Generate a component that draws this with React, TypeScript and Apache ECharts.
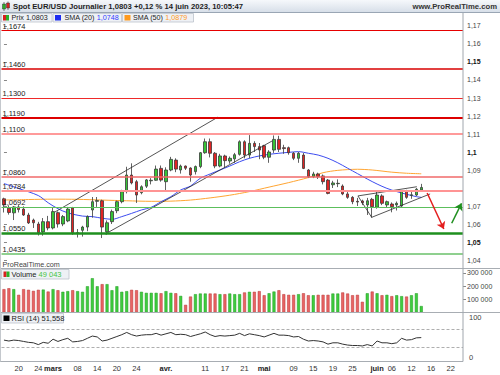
import React, { useEffect, useRef } from "react";
import * as echarts from "echarts";

const FONT = "'Liberation Sans', Arial, sans-serif";

// ---- categories (trading days, incl. empty future slots) ----
const DATES: string[] = [
  "2023-02-15","2023-02-16","2023-02-17","2023-02-20","2023-02-21","2023-02-22","2023-02-23","2023-02-24","2023-02-27","2023-02-28",
  "2023-03-01","2023-03-02","2023-03-03","2023-03-06","2023-03-07","2023-03-08","2023-03-09","2023-03-10","2023-03-13","2023-03-14",
  "2023-03-15","2023-03-16","2023-03-17","2023-03-20","2023-03-21","2023-03-22","2023-03-23","2023-03-24","2023-03-27","2023-03-28",
  "2023-03-29","2023-03-30","2023-03-31","2023-04-03","2023-04-04","2023-04-05","2023-04-06","2023-04-07","2023-04-10","2023-04-11",
  "2023-04-12","2023-04-13","2023-04-14","2023-04-17","2023-04-18","2023-04-19","2023-04-20","2023-04-21","2023-04-24","2023-04-25",
  "2023-04-26","2023-04-27","2023-04-28","2023-05-01","2023-05-02","2023-05-03","2023-05-04","2023-05-05","2023-05-08","2023-05-09",
  "2023-05-10","2023-05-11","2023-05-12","2023-05-15","2023-05-16","2023-05-17","2023-05-18","2023-05-19","2023-05-22","2023-05-23",
  "2023-05-24","2023-05-25","2023-05-26","2023-05-29","2023-05-30","2023-05-31","2023-06-01","2023-06-02","2023-06-05","2023-06-06",
  "2023-06-07","2023-06-08","2023-06-09","2023-06-12","2023-06-13","2023-06-14",
  "2023-06-15","2023-06-16","2023-06-19","2023-06-20","2023-06-21","2023-06-22","2023-06-23","2023-06-26",
];

// tick labels: [category index, text]
const X_TICKS: [number, string][] = [
  [3, "20"], [7, "24"], [10, "mars"], [15, "08"], [19, "14"], [23, "20"], [27, "24"],
  [33, "avr."], [41, "11"], [45, "17"], [49, "21"], [53, "mai"], [59, "09"], [63, "15"],
  [67, "19"], [71, "25"], [76, "juin"], [79, "06"], [83, "12"], [87, "16"], [91, "22"],
];
const MONTHS = ["mars", "avr.", "mai", "juin"];

// ---- daily candles: [open, high, low, close] ----
const OHLC: [number, number, number, number][] = [
  [1.0740, 1.0746, 1.0664, 1.0706], [1.0688, 1.0703, 1.0652, 1.0664], [1.0662, 1.0700, 1.0622, 1.0695], [1.0695, 1.0705, 1.0664, 1.0680],
  [1.0683, 1.0698, 1.0645, 1.0650], [1.0650, 1.0662, 1.0600, 1.0606], [1.0622, 1.0630, 1.0578, 1.0607], [1.0600, 1.0612, 1.0536, 1.0552],
  [1.0556, 1.0633, 1.0535, 1.0613], [1.0613, 1.0645, 1.0565, 1.0578], [1.0578, 1.0691, 1.0570, 1.0669], [1.0663, 1.0670, 1.0580, 1.0600],
  [1.0600, 1.0650, 1.0588, 1.0641], [1.0617, 1.0695, 1.0610, 1.0683], [1.0689, 1.0695, 1.0540, 1.0552], [1.0548, 1.0572, 1.0525, 1.0552],
  [1.0565, 1.0590, 1.0530, 1.0583], [1.0583, 1.0648, 1.0560, 1.0641], [1.0678, 1.0750, 1.0635, 1.0724], [1.0726, 1.0750, 1.0695, 1.0730],
  [1.0729, 1.0735, 1.0522, 1.0583], [1.0557, 1.0620, 1.0540, 1.0607], [1.0613, 1.0680, 1.0600, 1.0669], [1.0674, 1.0730, 1.0660, 1.0724],
  [1.0724, 1.0790, 1.0715, 1.0780], [1.0780, 1.0918, 1.0770, 1.0872], [1.0872, 1.0937, 1.0820, 1.0828], [1.0835, 1.0845, 1.0717, 1.0761],
  [1.0774, 1.0815, 1.0765, 1.0807], [1.0810, 1.0850, 1.0800, 1.0845], [1.0840, 1.0855, 1.0820, 1.0843], [1.0843, 1.0925, 1.0840, 1.0905],
  [1.0909, 1.0925, 1.0835, 1.0844], [1.0835, 1.0915, 1.0788, 1.0900], [1.0900, 1.0973, 1.0893, 1.0959], [1.0955, 1.0965, 1.0888, 1.0905],
  [1.0900, 1.0930, 1.0880, 1.0922], [1.0922, 1.0925, 1.0900, 1.0910], [1.0911, 1.0915, 1.0835, 1.0872], [1.0891, 1.0925, 1.0875, 1.0919],
  [1.0919, 1.1000, 1.0910, 1.0996], [1.0996, 1.1075, 1.0990, 1.1057], [1.1057, 1.1075, 1.0970, 1.0993], [1.0993, 1.1000, 1.0910, 1.0922],
  [1.0922, 1.0990, 1.0915, 1.0978], [1.0978, 1.0985, 1.0915, 1.0952], [1.0950, 1.0975, 1.0935, 1.0965], [1.0962, 1.0995, 1.0940, 1.0985],
  [1.0987, 1.1065, 1.0980, 1.1057], [1.1057, 1.1065, 1.0965, 1.0983], [1.0983, 1.1094, 1.0965, 1.1048], [1.1048, 1.1060, 1.1000, 1.1030],
  [1.1030, 1.1050, 1.0960, 1.1011], [1.1035, 1.1040, 1.0960, 1.0971], [1.0971, 1.1010, 1.0940, 1.1000], [1.1011, 1.1092, 1.0995, 1.1070],
  [1.1070, 1.1090, 1.1000, 1.1015], [1.1024, 1.1040, 1.0990, 1.1019], [1.1024, 1.1030, 1.0985, 1.0996], [1.0993, 1.1000, 1.0955, 1.0965],
  [1.0965, 1.1000, 1.0940, 1.0993], [1.0983, 1.0995, 1.0905, 1.0909], [1.0900, 1.0905, 1.0855, 1.0863], [1.0863, 1.0890, 1.0855, 1.0878],
  [1.0878, 1.0885, 1.0850, 1.0863], [1.0867, 1.0875, 1.0820, 1.0835], [1.0844, 1.0850, 1.0765, 1.0770], [1.0818, 1.0840, 1.0800, 1.0828],
  [1.0824, 1.0848, 1.0805, 1.0826], [1.0811, 1.0820, 1.0760, 1.0767], [1.0767, 1.0780, 1.0740, 1.0748], [1.0748, 1.0755, 1.0710, 1.0724],
  [1.0726, 1.0745, 1.0700, 1.0722], [1.0728, 1.0735, 1.0705, 1.0718], [1.0706, 1.0745, 1.0650, 1.0729], [1.0737, 1.0745, 1.0635, 1.0696],
  [1.0693, 1.0780, 1.0685, 1.0761], [1.0756, 1.0765, 1.0705, 1.0715], [1.0706, 1.0730, 1.0690, 1.0724], [1.0711, 1.0720, 1.0665, 1.0696],
  [1.0706, 1.0725, 1.0675, 1.0715], [1.0700, 1.0785, 1.0695, 1.0780], [1.0785, 1.0790, 1.0740, 1.0748], [1.0759, 1.0780, 1.0740, 1.0762],
  [1.0761, 1.0800, 1.0755, 1.0793], [1.0789, 1.0823, 1.0785, 1.0803],
];

const VOLUME: number[] = [
  177000, 184000, 177000, 134000, 177000, 172000, 164000, 172000, 174000, 159000,
  177000, 169000, 157000, 162000, 169000, 162000, 157000, 199000, 260000, 199000,
  215000, 215000, 169000, 199000, 157000, 162000, 172000, 169000, 157000, 149000,
  149000, 149000, 146000, 162000, 149000, 146000, 126000, 58000, 121000, 139000,
  144000, 144000, 144000, 144000, 139000, 139000, 144000, 139000, 139000, 152000,
  157000, 157000, 162000, 131000, 146000, 159000, 169000, 139000, 134000, 134000,
  139000, 146000, 131000, 131000, 134000, 134000, 134000, 144000, 144000, 152000,
  144000, 131000, 134000, 81000, 146000, 159000, 146000, 131000, 134000, 124000,
  131000, 124000, 121000, 131000, 146000, 49043,
];

const RSI: number[] = [
  46, 44, 46, 45, 43, 41, 40, 36, 41, 39,
  48, 43, 47, 50, 42, 43, 45, 50, 55, 53,
  44, 46, 50, 54, 58, 63, 58, 55, 57, 58,
  58, 61, 57, 60, 63, 58, 59, 58, 54, 57,
  60, 64, 58, 54, 56, 55, 56, 57, 61, 56,
  60, 58, 56, 53, 57, 61, 57, 57, 56, 53,
  54, 48, 44, 45, 44, 42, 37, 40, 40, 37,
  35, 34, 34, 33, 36, 33, 44, 40, 40, 38,
  40, 50, 46, 47, 51, 51.558,
];

// moving averages: [category index, value]
const SMA20: [number, number][] = [
  [0, 1.0825], [3, 1.0797], [7, 1.0758], [9, 1.0718], [11, 1.0685], [13, 1.0662], [16, 1.0644], [18, 1.0641],
  [20, 1.0632], [22, 1.0626], [24, 1.0641], [26, 1.0659], [28, 1.0678], [30, 1.0693], [32, 1.0724], [34, 1.0752],
  [36, 1.0789], [38, 1.0811], [40, 1.0854], [42, 1.0878], [44, 1.0900], [46, 1.0922], [48, 1.0946], [50, 1.0965],
  [52, 1.0978], [54, 1.0987], [56, 1.0993], [58, 1.0998], [60, 1.1002], [62, 1.0993], [64, 1.0983], [66, 1.0965],
  [68, 1.0940], [70, 1.0910], [72, 1.0880], [74, 1.0850], [76, 1.0822], [78, 1.0798], [80, 1.0780], [82, 1.0765],
  [84, 1.0752], [85, 1.0748],
];
const SMA50: [number, number][] = [
  [0, 1.0733], [5, 1.0736], [10, 1.0738], [15, 1.0737], [20, 1.0733], [25, 1.0729], [30, 1.0726], [34, 1.0727],
  [38, 1.0733], [42, 1.0745], [46, 1.0760], [50, 1.0780], [54, 1.0805], [58, 1.0830], [62, 1.0858], [65, 1.0885],
  [68, 1.0898], [72, 1.0904], [75, 1.0900], [79, 1.0888], [82, 1.0882], [85, 1.0879],
];

// horizontal levels drawn on the chart
const LEVELS: number[] = [1.1674, 1.1460, 1.1300, 1.1190, 1.1100, 1.0860, 1.0784, 1.0692, 1.0550, 1.0435];
const LEVEL_COLORS = ["#e60000", "#d80000", "#ee2a2a", "#dd0000", "#ff9a9a", "#f06a6a", "#ff9494", "#5cbf5c", "#1e8f1e", "#8fd08f"];
const LEVEL_WIDTHS = [1.2, 1.5, 1, 2, 2, 1.5, 2, 1, 2.5, 2];

// hand-drawn trend lines: pairs of [category index, price]
const TRENDLINES: [number, number][][] = [
  [[10.4, 1.0667], [43.6, 1.1194]],
  [[20.6, 1.0544], [54.6, 1.1061]],
  [[72.1, 1.0756], [84.1, 1.0807]],
  [[72.1, 1.0756], [74.9, 1.0637]],
  [[74.9, 1.0637], [86.8, 1.0767]],
];
const ARROW_DOWN: [number, number][] = [[86.2, 1.0772], [89.6, 1.0572]];
const ARROW_UP: [number, number][] = [[91.2, 1.0604], [93.2, 1.0715]];

const LAST_PRICE = 1.0803;
const LAST_SMA20 = 1.0748;
const LAST_SMA50 = 1.0879;
const LAST_VOLUME = 49043;
const LAST_RSI = 51.558;
const PRICE_TICKS = [1.04, 1.05, 1.06, 1.07, 1.09, 1.1, 1.11, 1.12, 1.13, 1.14, 1.15, 1.16, 1.17];
const VOLUME_TICKS = [100000, 200000, 300000];
const RSI_TICKS = [0, 100];
const RSI_BANDS = [70, 30];

const fr = (v: number, d: number) => v.toFixed(d).replace(".", ",");
const thousands = (v: number) => String(Math.round(v)).replace(/\B(?=(\d{3})+(?!\d))/g, " ");

export default function App() {
  const ref = useRef<HTMLDivElement>(null);

  useEffect(() => {
    document.body.style.margin = "0";
    if (!ref.current) return;
    const chart = echarts.init(ref.current, undefined, { renderer: "svg" });

    const GREEN = "#36c436";
    const RED = "#e02424";
    const up = OHLC.map(([o, , , c]) => c >= o);

    const tickMap = new Map<number, string>(X_TICKS);
    const priceLabel = (v: number) => {
      let s = v.toFixed(2);
      if (s.endsWith("0")) s = s.slice(0, -1);
      s = s.replace(".", ",");
      return Math.round(v * 100) % 5 === 0 ? `{b|${s}}` : s;
    };

    const gridL = 1.5;
    const gridR = 37;

    const option: any = {
      animation: false,
      textStyle: { fontFamily: FONT },
      grid: [
        { left: gridL, right: gridR, top: 13, height: 255 },
        { left: gridL, right: gridR, top: 269, height: 43.5 },
        { left: gridL, right: gridR, top: 315.8, height: 45 },
      ],
      xAxis: [
        { type: "category", gridIndex: 0, data: DATES, show: false },
        { type: "value", gridIndex: 0, min: -0.5, max: DATES.length - 0.5, show: false },
        { type: "category", gridIndex: 1, data: DATES, show: false },
        {
          type: "category",
          gridIndex: 2,
          data: DATES,
          axisLine: { show: false },
          axisTick: { show: false },
          axisLabel: {
            interval: (i: number) => tickMap.has(i),
            formatter: (_v: string, i: number) => {
              const t = tickMap.get(i) || "";
              return MONTHS.includes(t) ? `{m|${t}}` : t;
            },
            fontSize: 7.5,
            color: "#333",
            margin: 4,
            fontFamily: FONT,
            rich: { m: { fontWeight: "bold", fontSize: 7.5, color: "#222", fontFamily: FONT } },
          },
        },
      ],
      yAxis: [
        {
          type: "value",
          gridIndex: 0,
          position: "right",
          min: 1.035556,
          max: 1.177222,
          axisLine: { show: false },
          splitLine: { show: false },
          axisTick: { show: true, length: 3, lineStyle: { color: "#888" }, customValues: PRICE_TICKS },
          axisLabel: {
            customValues: PRICE_TICKS,
            formatter: priceLabel,
            fontSize: 7,
            color: "#444",
            margin: 4,
            fontFamily: FONT,
            rich: { b: { fontWeight: "bold", fontSize: 7, color: "#111", fontFamily: FONT } },
          },
        },
        {
          type: "value",
          gridIndex: 1,
          position: "right",
          min: 0,
          max: 330000,
          axisLine: { show: false },
          splitLine: { show: false },
          axisTick: { show: true, length: 3, lineStyle: { color: "#888" }, customValues: VOLUME_TICKS },
          axisLabel: { customValues: VOLUME_TICKS, formatter: thousands, fontSize: 7, color: "#444", margin: 4, fontFamily: FONT },
        },
        {
          type: "value",
          gridIndex: 2,
          position: "right",
          min: 0,
          max: 100,
          axisLine: { show: false },
          splitLine: { show: false },
          axisTick: { show: false },
          axisLabel: {
            customValues: RSI_TICKS,
            formatter: (v: number) => (v === 0 ? `{lo|0}` : `{hi|${v}}`),
            fontSize: 7.5,
            color: "#444",
            margin: 6,
            fontFamily: FONT,
            rich: {
              lo: { padding: [0, 0, 7, 0], fontSize: 7.5, color: "#444", fontFamily: FONT },
              hi: { padding: [3, 0, 0, 0], fontSize: 7.5, color: "#444", fontFamily: FONT },
            },
          },
        },
      ],
      series: [
        {
          type: "candlestick",
          xAxisIndex: 0,
          yAxisIndex: 0,
          barWidth: 3,
          data: OHLC.map(([o, h, l, c]) => [o, c, l, h]),
          itemStyle: { color: GREEN, color0: RED, borderColor: "#3a3a3a", borderColor0: "#3a3a3a", borderWidth: 0.8 },
          markLine: {
            silent: true,
            symbol: "none",
            precision: 4,
            animation: false,
            data: [
              ...LEVELS.map((v, i) => ({
                yAxis: v,
                lineStyle: { color: LEVEL_COLORS[i], width: LEVEL_WIDTHS[i], type: "solid" },
                label: {
                  show: true,
                  position: "insideStartTop",
                  formatter: () => fr(v, 4),
                  color: "#222",
                  fontSize: 7.5,
                  fontFamily: FONT,
                  distance: [1, 0.5],
                },
              })),
              {
                yAxis: LAST_PRICE,
                lineStyle: { opacity: 0 },
                label: {
                  show: true,
                  position: "end",
                  distance: 3,
                  formatter: () => fr(LAST_PRICE, 4),
                  backgroundColor: "#f3cf1c",
                  borderColor: "#b89a10",
                  borderWidth: 0.5,
                  padding: [2, 2, 1, 2],
                  color: "#000",
                  fontWeight: "bold",
                  fontSize: 9,
                  fontFamily: FONT,
                },
              },
            ],
          },
          z: 3,
        },
        {
          type: "line",
          xAxisIndex: 1,
          yAxisIndex: 0,
          data: SMA50,
          showSymbol: false,
          smooth: 0.3,
          lineStyle: { color: "#ffa532", width: 1 },
          z: 2,
        },
        {
          type: "line",
          xAxisIndex: 1,
          yAxisIndex: 0,
          data: SMA20,
          showSymbol: false,
          smooth: 0.3,
          lineStyle: { color: "#3d4cf0", width: 1 },
          z: 2,
        },
        {
          type: "lines",
          coordinateSystem: "cartesian2d",
          xAxisIndex: 1,
          yAxisIndex: 0,
          data: TRENDLINES.map((c) => ({ coords: c })),
          lineStyle: { color: "#2a2a2a", width: 0.8, opacity: 1 },
          z: 4,
        },
        {
          type: "lines",
          coordinateSystem: "cartesian2d",
          xAxisIndex: 1,
          yAxisIndex: 0,
          symbol: ["none", "arrow"],
          symbolSize: 7,
          data: [
            { coords: ARROW_DOWN, lineStyle: { color: "#e41e1e", width: 1.5 } },
            { coords: ARROW_UP, lineStyle: { color: "#1f8f1f", width: 1.5 } },
          ],
          lineStyle: { opacity: 1 },
          z: 5,
        },
        {
          type: "bar",
          xAxisIndex: 2,
          yAxisIndex: 1,
          barWidth: 3,
          data: VOLUME.map((v, i) => ({
            value: v,
            itemStyle: up[i]
              ? { color: "#3fcc3f", borderColor: "#1f9a1f", borderWidth: 0.5 }
              : { color: "#e86464", borderColor: "#b83232", borderWidth: 0.5 },
          })),
          markLine: {
            silent: true,
            symbol: "none",
            precision: 0,
            data: [
              {
                yAxis: LAST_VOLUME,
                lineStyle: { opacity: 0 },
                label: {
                  show: true,
                  position: "end",
                  distance: 3,
                  formatter: () => thousands(LAST_VOLUME),
                  backgroundColor: "#fff",
                  borderColor: "#999",
                  borderWidth: 0.7,
                  padding: [1, 2, 0, 2],
                  color: "#4cc84c",
                  fontSize: 7.5,
                  fontFamily: FONT,
                },
              },
            ],
          },
        },
        {
          type: "line",
          xAxisIndex: 3,
          yAxisIndex: 2,
          data: RSI,
          showSymbol: false,
          lineStyle: { color: "#333", width: 1 },
          markLine: {
            silent: true,
            symbol: "none",
            precision: 3,
            data: [
              ...RSI_BANDS.map((v) => ({
                yAxis: v,
                lineStyle: { color: "#999", width: 0.8, type: [3, 2] },
                label: { show: false },
              })),
              {
                yAxis: LAST_RSI,
                lineStyle: { opacity: 0 },
                label: {
                  show: true,
                  position: "end",
                  distance: 3,
                  formatter: () => fr(LAST_RSI, 3),
                  backgroundColor: "#fff",
                  borderColor: "#999",
                  borderWidth: 0.7,
                  padding: [1, 2, 0, 2],
                  color: "#222",
                  fontSize: 7.5,
                  fontFamily: FONT,
                },
              },
            ],
          },
        },
      ],
      graphic: [
        // header band
        {
          type: "rect",
          z: 100,
          silent: true,
          shape: { x: 0, y: 0, width: 500, height: 12.5 },
          style: {
            fill: new echarts.graphic.LinearGradient(0, 0, 0, 1, [
              { offset: 0, color: "#f6f8fb" },
              { offset: 1, color: "#d6dee8" },
            ]),
          },
        },
        { type: "line", z: 101, silent: true, shape: { x1: 0, y1: 12.5, x2: 500, y2: 12.5 }, style: { stroke: "#9aa6b4", lineWidth: 1 } },
        { type: "line", z: 102, shape: { x1: 4, y1: 2, x2: 4, y2: 11 }, style: { stroke: "#333", lineWidth: 0.6 } },
        { type: "rect", z: 103, shape: { x: 2.5, y: 4, width: 3, height: 5 }, style: { fill: "#2ab02a", stroke: "#333", lineWidth: 0.5 } },
        { type: "line", z: 102, shape: { x1: 8, y1: 1.5, x2: 8, y2: 10 }, style: { stroke: "#333", lineWidth: 0.6 } },
        { type: "rect", z: 103, shape: { x: 6.5, y: 3, width: 3, height: 5 }, style: { fill: "#d82020", stroke: "#333", lineWidth: 0.5 } },
        {
          type: "text",
          z: 103,
          x: 13,
          y: 6.5,
          style: {
            text: `Spot EUR/USD Journalier ${fr(LAST_PRICE, 4)} +0,12 % 14 juin 2023, 10:05:47`,
            fontSize: 7.7,
            fontWeight: "bold",
            fontFamily: FONT,
            fill: "#1e1e1e",
            verticalAlign: "middle",
          },
        },
        {
          type: "text",
          z: 103,
          x: 497,
          y: 6.5,
          style: {
            text: "www.ProRealTime.com",
            fontSize: 7.7,
            fontWeight: "bold",
            fontFamily: FONT,
            fill: "#333",
            align: "right",
            verticalAlign: "middle",
          },
        },
        // legend row
        { type: "rect", z: 90, shape: { x: 1.5, y: 13.5, width: 50.5, height: 8.5 }, style: { fill: "#eef1f5", stroke: "#bcc3cc", lineWidth: 0.8 } },
        { type: "rect", z: 91, shape: { x: 3, y: 15, width: 3, height: 5.5 }, style: { fill: "#d82020" } },
        { type: "rect", z: 91, shape: { x: 6, y: 15, width: 3, height: 5.5 }, style: { fill: "#2ab02a" } },
        {
          type: "text",
          z: 91,
          x: 11.5,
          y: 17.6,
          style: { text: `Prix ${fr(LAST_PRICE, 4)}`, fontSize: 7.2, fontFamily: FONT, fill: "#222", verticalAlign: "middle" },
        },
        { type: "rect", z: 90, shape: { x: 53, y: 13.5, width: 68.5, height: 8.5 }, style: { fill: "#eef1f5", stroke: "#bcc3cc", lineWidth: 0.8 } },
        { type: "rect", z: 91, shape: { x: 55, y: 15, width: 6, height: 5.5 }, style: { fill: "#1c2cf0" } },
        {
          type: "text",
          z: 91,
          x: 64.5,
          y: 17.6,
          style: {
            text: `{a|SMA (20) }{b|${fr(LAST_SMA20, 4)}}`,
            fontSize: 7.2,
            fontFamily: FONT,
            verticalAlign: "middle",
            rich: {
              a: { fill: "#222", color: "#222", fontSize: 7.2, fontFamily: FONT },
              b: { fill: "#3040ff", color: "#3040ff", fontSize: 7.2, fontFamily: FONT },
            },
          },
        },
        { type: "rect", z: 90, shape: { x: 122.5, y: 13.5, width: 71, height: 8.5 }, style: { fill: "#eef1f5", stroke: "#bcc3cc", lineWidth: 0.8 } },
        { type: "rect", z: 91, shape: { x: 124.5, y: 15, width: 6, height: 5.5 }, style: { fill: "#ff9a1e" } },
        {
          type: "text",
          z: 91,
          x: 133,
          y: 17.6,
          style: {
            text: `{a|SMA (50) }{b|${fr(LAST_SMA50, 4)}}`,
            fontSize: 7.2,
            fontFamily: FONT,
            verticalAlign: "middle",
            rich: {
              a: { fill: "#222", color: "#222", fontSize: 7.2, fontFamily: FONT },
              b: { fill: "#ff9a1e", color: "#ff9a1e", fontSize: 7.2, fontFamily: FONT },
            },
          },
        },
        // watermark
        {
          type: "text",
          z: 60,
          x: 2.5,
          y: 264.8,
          style: { text: "ProRealTime.com", fontSize: 7.2, fontFamily: FONT, fill: "#444", verticalAlign: "middle" },
        },
        // pane separators & frame
        { type: "line", z: 60, shape: { x1: 0, y1: 268.5, x2: 500, y2: 268.5 }, style: { stroke: "#a8adb3", lineWidth: 1 } },
        { type: "line", z: 60, shape: { x1: 0, y1: 312.5, x2: 500, y2: 312.5 }, style: { stroke: "#a8adb3", lineWidth: 1 } },
        { type: "line", z: 60, shape: { x1: 0, y1: 361.5, x2: 463, y2: 361.5 }, style: { stroke: "#a8adb3", lineWidth: 1 } },
        { type: "line", z: 60, shape: { x1: 463, y1: 12.5, x2: 463, y2: 361.5 }, style: { stroke: "#a0a6ad", lineWidth: 1 } },
        { type: "line", z: 60, shape: { x1: 0.5, y1: 12.5, x2: 0.5, y2: 361.5 }, style: { stroke: "#c4c8cd", lineWidth: 1 } },
        // volume legend
        { type: "rect", z: 90, shape: { x: 1.5, y: 269.5, width: 67.5, height: 9.5 }, style: { fill: "#eef1f5", stroke: "#bcc3cc", lineWidth: 0.8 } },
        { type: "rect", z: 91, shape: { x: 3.5, y: 271.5, width: 3, height: 5.5 }, style: { fill: "#d82020" } },
        { type: "rect", z: 91, shape: { x: 6.5, y: 271.5, width: 3, height: 5.5 }, style: { fill: "#2ab02a" } },
        {
          type: "text",
          z: 91,
          x: 11.5,
          y: 274.3,
          style: {
            text: `{a|Volume }{b|${thousands(LAST_VOLUME)}}`,
            fontSize: 7.5,
            fontFamily: FONT,
            verticalAlign: "middle",
            rich: {
              a: { fill: "#222", color: "#222", fontSize: 7.5, fontFamily: FONT },
              b: { fill: "#44c444", color: "#44c444", fontSize: 7.5, fontFamily: FONT },
            },
          },
        },
        // RSI legend
        { type: "rect", z: 90, shape: { x: 1.5, y: 313.5, width: 62, height: 9.5 }, style: { fill: "#eef1f5", stroke: "#bcc3cc", lineWidth: 0.8 } },
        { type: "rect", z: 91, shape: { x: 3.5, y: 315.5, width: 6, height: 5.5 }, style: { fill: "#000" } },
        {
          type: "text",
          z: 91,
          x: 11.5,
          y: 318.3,
          style: { text: `RSI (14) ${fr(LAST_RSI, 3)}`, fontSize: 7.5, fontFamily: FONT, fill: "#222", verticalAlign: "middle" },
        },
      ],
    };

    chart.setOption(option);
    return () => chart.dispose();
  }, []);

  return <div ref={ref} style={{ width: 500, height: 375, background: "#fff" }} />;
}
